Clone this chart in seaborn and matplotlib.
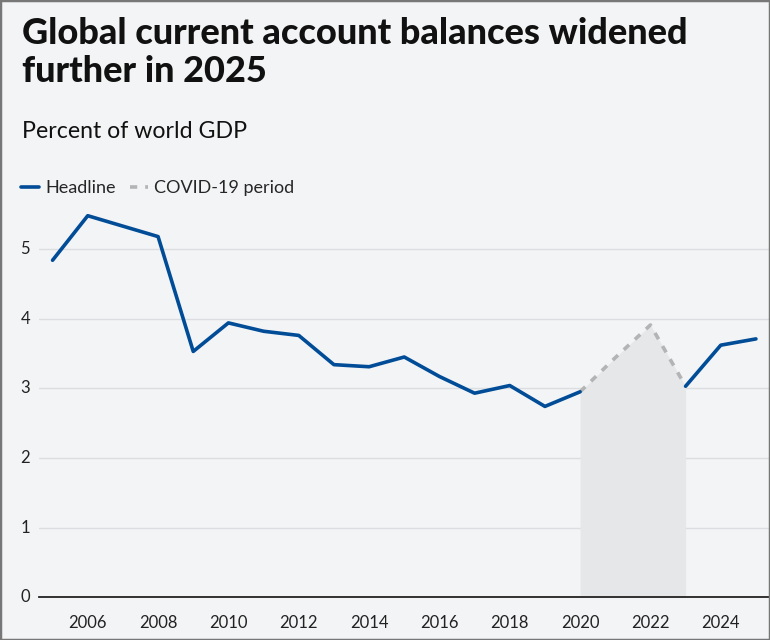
import numpy as np
import pandas as pd
import matplotlib.pyplot as plt
import seaborn as sns
from matplotlib.lines import Line2D

years = list(range(2005, 2026))
balance = [4.84, 5.48, 5.33, 5.18, 3.53, 3.94, 3.82, 3.76, 3.34, 3.31, 3.45,
           3.17, 2.93, 3.04, 2.74, 2.95, 3.44, 3.91, 3.03, 3.62, 3.71]
covid_start = 2020
covid_end = 2023

df = pd.DataFrame({"year": years, "balance": balance})
pre = df[df.year <= covid_start]
covid = df[(df.year >= covid_start) & (df.year <= covid_end)]
post = df[df.year >= covid_end]

bg = "#f3f4f6"
blue = "#004c97"
sns.set_style("white")
plt.rcParams["font.family"] = ["Lato", "DejaVu Sans"]

fig = plt.figure(figsize=(7.7, 6.4), dpi=100, facecolor=bg)
ax = fig.add_axes([0.05, 0.067, 0.95, 0.609])
ax.set_facecolor(bg)

ax.fill_between(covid.year, 0, covid.balance, color="#e6e7e9", lw=0, zorder=1)
sns.lineplot(data=pre, x="year", y="balance", color=blue, lw=2.6, ax=ax, zorder=3)
sns.lineplot(data=post, x="year", y="balance", color=blue, lw=2.6, ax=ax, zorder=3)
sns.lineplot(data=covid, x="year", y="balance", color="#b3b4b6", lw=2.6,
             dashes=False, ax=ax, zorder=2)
ax.lines[-1].set_linestyle((0, (2, 2.2)))

ax.set_xlim(2004.6, 2025.4)
ax.set_ylim(0, 5.6)
ax.set_yticks([0, 1, 2, 3, 4, 5])
ax.set_xticks(range(2006, 2025, 2))
ax.yaxis.grid(True, color="#dcdde0", lw=1)
ax.set_axisbelow(True)
for s in ["top", "right", "left"]:
    ax.spines[s].set_visible(False)
ax.spines["bottom"].set_color("#222222")
ax.spines["bottom"].set_linewidth(1.3)
ax.tick_params(axis="x", length=7, width=1, color="#222222", labelsize=12,
               labelcolor="#222222", pad=6)
ax.tick_params(axis="y", length=0, labelsize=12, labelcolor="#222222", pad=6)
ax.set_xlabel("")
ax.set_ylabel("")
for lab in ax.get_yticklabels():
    lab.set_verticalalignment("center")

fig.text(0.029, 0.974, "Global current account balances widened\nfurther in 2025",
         fontsize=26, fontweight="black", color="#111111", va="top",
         linespacing=1.2)
fig.text(0.029, 0.795, "Percent of world GDP", fontsize=16.7, color="#111111",
         va="center")

handles = [Line2D([], [], color=blue, lw=2.6),
           Line2D([], [], color="#b3b4b6", lw=2.6, ls=(0, (2, 2.2)))]
fig.legend(handles, ["Headline", "COVID-19 period"], loc="center left",
           bbox_to_anchor=(0.006, 0.706), frameon=False, ncol=2, fontsize=13,
           handlelength=1.0, handletextpad=0.33, columnspacing=0.8)

fig.patches.append(plt.Rectangle((0, 0), 1, 1, transform=fig.transFigure,
                                 fill=False, ec="#777777", lw=2.5))
fig.savefig("out.png", dpi=100, facecolor=bg)
